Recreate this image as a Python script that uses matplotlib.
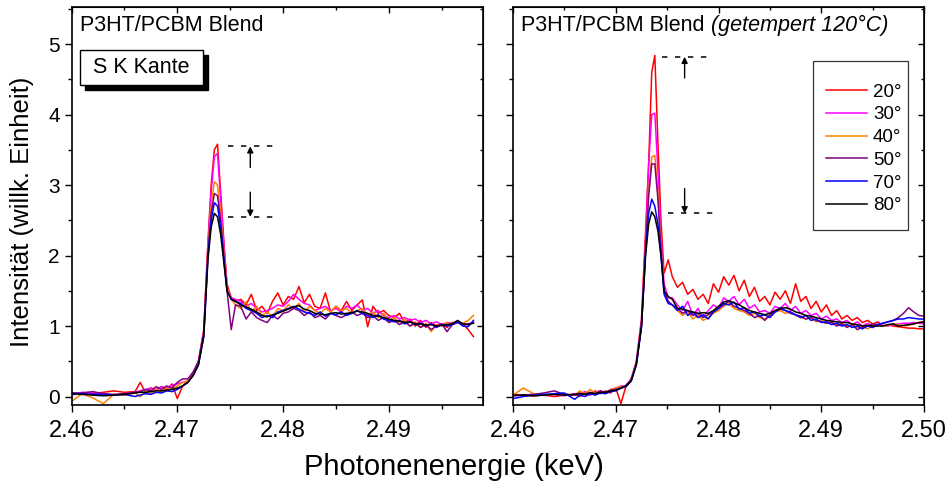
import matplotlib
matplotlib.use('Agg')
import matplotlib.pyplot as plt
from matplotlib.ticker import MultipleLocator, FormatStrFormatter
from matplotlib.patches import Rectangle

plt.rcParams['font.family'] = ['Liberation Sans', 'DejaVu Sans']

# photon energy grid (keV): sparse pre-edge, dense pre-edge, edge, post-edge
energy_left = [2.460, 2.461, 2.462, 2.463, 2.464, 2.465, 2.466,
               2.4665, 2.467, 2.4675, 2.468, 2.4685, 2.469, 2.4695, 2.470, 2.4705,
               2.471, 2.4715, 2.472, 2.4725, 2.4729, 2.4732, 2.4735, 2.4738, 2.4741,
               2.4744, 2.4747, 2.4751, 2.4755,
               2.476, 2.4765, 2.477, 2.4775, 2.478, 2.4785, 2.479, 2.4795, 2.480,
               2.4805, 2.481, 2.4815, 2.482, 2.4825, 2.483, 2.4835, 2.484, 2.4845,
               2.485, 2.4855, 2.486, 2.4865, 2.487, 2.4875, 2.488, 2.4885, 2.489,
               2.4895, 2.490, 2.4905, 2.491, 2.4915, 2.492, 2.4925, 2.493, 2.4935,
               2.494, 2.4945, 2.495, 2.4955, 2.496, 2.4965, 2.497, 2.4975, 2.498]
energy_right = energy_left + [2.4985, 2.499, 2.4995, 2.500]

labels = ['20°', '30°', '40°', '50°', '70°', '80°']
colors = ['#ff0000', '#ff00ff', '#ff8000', '#800080', '#0000ff', '#000000']

# P3HT/PCBM Blend (as cast)
left_20 = [0.05, 0.05, 0.04, 0.06, 0.08, 0.06, 0.07, 0.20, 0.05, 0.12, 0.10, 0.14, 0.09, 0.18, -0.03, 0.15,
           0.22, 0.32, 0.50, 0.95, 2.20, 3.00, 3.50, 3.58, 2.90, 2.20, 1.60, 1.40, 1.35,
           1.38, 1.30, 1.45, 1.22, 1.28, 1.18, 1.35, 1.47, 1.30, 1.42, 1.38, 1.56, 1.33, 1.45, 1.28,
           1.25, 1.47, 1.20, 1.28, 1.22, 1.35, 1.22, 1.30, 1.37, 0.99, 1.28, 1.18, 1.22, 1.15, 1.12,
           1.18, 1.05, 1.10, 1.00, 1.08, 0.98, 1.05, 1.00, 1.03, 0.98, 1.05, 1.05, 1.03, 0.95, 0.85]
left_30 = [0.02, 0.06, 0.05, 0.04, 0.02, 0.04, 0.06, 0.08, 0.10, 0.12, 0.08, 0.14, 0.12, 0.16, 0.18, 0.20,
           0.22, 0.30, 0.48, 0.92, 2.15, 2.90, 3.40, 3.45, 2.80, 2.15, 1.55, 1.40, 1.38,
           1.35, 1.28, 1.32, 1.25, 1.20, 1.22, 1.25, 1.30, 1.28, 1.35, 1.45, 1.38, 1.32, 1.30, 1.22,
           1.25, 1.28, 1.22, 1.25, 1.20, 1.28, 1.25, 1.30, 1.22, 1.25, 1.18, 1.22, 1.15, 1.12, 1.15,
           1.10, 1.12, 1.08, 1.10, 1.05, 1.08, 1.03, 1.06, 1.02, 1.05, 1.04, 1.06, 1.03, 1.02, 1.05]
left_40 = [-0.07, 0.04, -0.02, -0.10, 0.03, 0.02, 0.05, 0.00, 0.08, 0.04, 0.10, 0.07, 0.12, 0.10, 0.15, 0.20,
           0.22, 0.30, 0.48, 0.90, 2.10, 2.70, 3.05, 3.00, 2.60, 2.05, 1.55, 1.38, 1.30,
           1.25, 1.35, 1.20, 1.28, 1.15, 1.20, 1.12, 1.25, 1.22, 1.30, 1.25, 1.32, 1.20, 1.28, 1.22,
           1.18, 1.25, 1.20, 1.28, 1.22, 1.25, 1.18, 1.22, 1.25, 1.15, 1.20, 1.12, 1.18, 1.08, 1.12,
           1.05, 1.10, 1.00, 1.06, 0.98, 1.04, 0.92, 1.02, 1.00, 1.05, 1.02, 1.05, 1.04, 1.08, 1.15]
left_50 = [0.03, 0.05, 0.07, 0.04, 0.03, 0.04, 0.06, 0.07, 0.10, 0.08, 0.14, 0.10, 0.15, 0.12, 0.20, 0.25,
           0.25, 0.35, 0.50, 0.90, 2.05, 2.60, 2.88, 2.85, 2.50, 2.00, 1.50, 0.95, 1.30,
           1.28, 1.10, 1.20, 1.12, 1.08, 1.05, 1.15, 1.10, 1.18, 1.20, 1.25, 1.22, 1.15, 1.20, 1.12,
           1.15, 1.10, 1.18, 1.15, 1.12, 1.16, 1.20, 1.15, 1.18, 1.12, 1.15, 1.08, 1.12, 1.05, 1.08,
           1.02, 1.06, 1.00, 1.04, 0.98, 1.02, 0.95, 1.00, 1.03, 0.92, 1.02, 1.05, 1.02, 1.03, 1.05]
left_70 = [0.05, 0.04, 0.03, 0.03, 0.02, 0.03, 0.00, 0.02, 0.04, 0.03, 0.06, 0.05, 0.08, 0.07, 0.10, 0.15,
           0.20, 0.30, 0.45, 0.85, 2.00, 2.50, 2.75, 2.70, 2.40, 1.95, 1.50, 1.38, 1.35,
           1.32, 1.25, 1.22, 1.18, 1.12, 1.15, 1.12, 1.20, 1.22, 1.25, 1.28, 1.24, 1.20, 1.18, 1.15,
           1.20, 1.14, 1.18, 1.16, 1.20, 1.15, 1.18, 1.22, 1.18, 1.15, 1.12, 1.16, 1.10, 1.08, 1.06,
           1.08, 1.03, 1.06, 1.02, 1.04, 1.00, 1.03, 0.98, 1.02, 1.00, 1.02, 1.06, 1.00, 0.99, 1.08]
left_80 = [0.04, 0.03, 0.02, 0.01, 0.02, 0.03, 0.05, 0.06, 0.06, 0.07, 0.08, 0.08, 0.09, 0.10, 0.12, 0.15,
           0.20, 0.30, 0.45, 0.85, 1.95, 2.40, 2.60, 2.55, 2.30, 1.90, 1.50, 1.38, 1.35,
           1.30, 1.27, 1.24, 1.20, 1.15, 1.13, 1.16, 1.18, 1.21, 1.24, 1.27, 1.29, 1.24, 1.22, 1.18,
           1.17, 1.16, 1.18, 1.19, 1.17, 1.18, 1.19, 1.21, 1.20, 1.18, 1.15, 1.14, 1.12, 1.10, 1.08,
           1.07, 1.05, 1.06, 1.03, 1.03, 1.01, 1.02, 1.00, 1.01, 1.02, 1.03, 1.08, 1.03, 1.02, 1.04]

# P3HT/PCBM Blend (annealed 120 °C)
right_20 = [0.03, 0.02, 0.01, 0.02, 0.00, 0.02, 0.03, 0.00, 0.06, 0.02, 0.08, 0.04, 0.08, 0.05, 0.12, -0.10,
            0.15, 0.25, 0.50, 1.10, 2.35, 3.30, 4.60, 4.84, 3.60, 2.50, 1.75, 1.94, 1.70,
            1.55, 1.62, 1.45, 1.52, 1.38, 1.45, 1.32, 1.60, 1.48, 1.70, 1.58, 1.72, 1.50, 1.65, 1.42,
            1.55, 1.35, 1.42, 1.30, 1.48, 1.38, 1.50, 1.32, 1.60, 1.35, 1.42, 1.25, 1.35, 1.20, 1.30,
            1.15, 1.22, 1.10, 1.15, 1.08, 1.12, 1.05, 1.08, 1.03, 1.06, 1.00, 1.02, 1.00, 0.99, 0.98,
            0.97, 0.97, 0.96, 0.96]
right_30 = [0.01, 0.02, 0.03, 0.02, 0.03, 0.01, 0.04, 0.03, 0.07, 0.02, 0.06, 0.08, 0.05, 0.10, 0.12, 0.15,
            0.15, 0.25, 0.48, 1.05, 2.20, 3.30, 4.00, 4.02, 3.20, 2.30, 1.60, 1.40, 1.40,
            1.30, 1.22, 1.35, 1.15, 1.25, 1.12, 1.22, 1.30, 1.25, 1.40, 1.35, 1.42, 1.30, 1.38, 1.25,
            1.30, 1.20, 1.22, 1.18, 1.28, 1.25, 1.32, 1.22, 1.28, 1.18, 1.22, 1.15, 1.18, 1.10, 1.14,
            1.08, 1.10, 1.05, 1.08, 1.02, 1.06, 1.00, 1.04, 0.98, 1.03, 1.01, 1.00, 1.02, 1.03, 1.04,
            1.04, 1.05, 1.04, 1.03]
right_40 = [0.02, 0.12, 0.04, 0.02, 0.03, 0.04, 0.02, 0.08, 0.04, 0.10, 0.05, 0.08, 0.04, 0.10, 0.12, 0.14,
            0.15, 0.24, 0.48, 1.00, 2.10, 2.90, 3.40, 3.42, 2.90, 2.15, 1.50, 1.35, 1.30,
            1.22, 1.15, 1.20, 1.10, 1.15, 1.08, 1.12, 1.18, 1.22, 1.28, 1.32, 1.25, 1.22, 1.20, 1.15,
            1.18, 1.12, 1.10, 1.15, 1.20, 1.22, 1.18, 1.20, 1.15, 1.12, 1.10, 1.12, 1.06, 1.08, 1.05,
            1.06, 1.02, 1.04, 1.00, 1.02, 0.98, 1.00, 0.96, 1.00, 1.02, 1.00, 1.01, 1.03, 1.02, 1.00,
            1.01, 1.03, 1.05, 1.06]
right_50 = [0.01, 0.02, 0.03, 0.05, 0.08, 0.03, 0.02, 0.05, 0.03, 0.06, 0.04, 0.08, 0.06, 0.09, 0.10, 0.12,
            0.16, 0.24, 0.47, 1.00, 2.10, 2.85, 3.30, 3.30, 2.80, 2.10, 1.50, 1.35, 1.30,
            1.25, 1.18, 1.22, 1.15, 1.18, 1.12, 1.16, 1.20, 1.25, 1.30, 1.35, 1.28, 1.25, 1.22, 1.18,
            1.12, 1.15, 1.08, 1.16, 1.20, 1.24, 1.22, 1.18, 1.16, 1.14, 1.10, 1.12, 1.08, 1.06, 1.04,
            1.05, 1.00, 1.03, 0.98, 1.02, 0.95, 0.98, 1.00, 1.03, 1.02, 1.04, 1.06, 1.08, 1.12, 1.18,
            1.26, 1.20, 1.15, 1.14]
right_70 = [-0.03, 0.00, 0.02, 0.03, 0.04, 0.05, -0.04, 0.02, 0.00, 0.04, 0.02, 0.05, 0.04, 0.07, 0.08, 0.12,
            0.14, 0.22, 0.45, 0.98, 2.05, 2.60, 2.80, 2.70, 2.45, 2.00, 1.45, 1.32, 1.30,
            1.22, 1.28, 1.15, 1.20, 1.12, 1.16, 1.10, 1.20, 1.25, 1.32, 1.30, 1.34, 1.24, 1.26, 1.18,
            1.20, 1.14, 1.16, 1.12, 1.20, 1.26, 1.22, 1.20, 1.16, 1.12, 1.15, 1.08, 1.10, 1.05, 1.06,
            1.02, 1.04, 1.00, 1.02, 0.98, 1.00, 0.96, 1.00, 0.98, 1.02, 1.04, 1.06, 1.08, 1.10, 1.10,
            1.12, 1.11, 1.10, 1.10]
right_80 = [0.02, 0.02, 0.01, 0.02, 0.03, 0.02, 0.03, 0.04, 0.03, 0.05, 0.04, 0.06, 0.06, 0.08, 0.09, 0.12,
            0.15, 0.22, 0.45, 1.00, 2.00, 2.45, 2.62, 2.55, 2.35, 2.00, 1.50, 1.42, 1.38,
            1.25, 1.24, 1.22, 1.20, 1.18, 1.19, 1.18, 1.22, 1.28, 1.34, 1.36, 1.33, 1.30, 1.26, 1.22,
            1.20, 1.18, 1.16, 1.18, 1.22, 1.25, 1.26, 1.24, 1.20, 1.18, 1.15, 1.14, 1.12, 1.10, 1.08,
            1.07, 1.06, 1.05, 1.05, 1.03, 1.02, 1.00, 1.01, 1.00, 1.00, 1.00, 1.02, 1.03, 1.00, 1.01,
            1.02, 1.03, 1.05, 1.06]

left_series = [left_20, left_30, left_40, left_50, left_70, left_80]
right_series = [right_20, right_30, right_40, right_50, right_70, right_80]


def style_axes(ax, xmax, show_ylabels):
    ax.set_xlim(2.46, xmax)
    ax.set_ylim(-0.12, 5.52)
    ax.xaxis.set_major_locator(MultipleLocator(0.01))
    ax.xaxis.set_minor_locator(MultipleLocator(0.005))
    ax.yaxis.set_major_locator(MultipleLocator(1))
    ax.yaxis.set_minor_locator(MultipleLocator(0.5))
    ax.xaxis.set_major_formatter(FormatStrFormatter('%.2f'))
    ax.yaxis.set_major_formatter(FormatStrFormatter('%d'))
    ax.tick_params(which='both', direction='out', width=1.0, top=False, right=False)
    ax.tick_params(which='major', length=5)
    ax.tick_params(which='minor', length=3)
    ax.tick_params(axis='x', labelsize=17, pad=6)
    ax.tick_params(axis='y', labelsize=15, pad=3.5, labelleft=show_ylabels)
    for sp in ax.spines.values():
        sp.set_linewidth(1.2)
    # mirrored ticks, pointing inwards
    top = ax.secondary_xaxis('top')
    top.xaxis.set_major_locator(MultipleLocator(0.01))
    top.xaxis.set_minor_locator(MultipleLocator(0.005))
    top.tick_params(which='both', direction='in', labeltop=False, width=1.0)
    top.tick_params(which='major', length=4)
    top.tick_params(which='minor', length=2.5)
    right = ax.secondary_yaxis('right')
    right.yaxis.set_major_locator(MultipleLocator(1))
    right.yaxis.set_minor_locator(MultipleLocator(0.5))
    right.tick_params(which='both', direction='in', labelright=False, width=1.0)
    right.tick_params(which='major', length=4)
    right.tick_params(which='minor', length=2.5)


def mark_drop(ax, x_arrow, x_hi, y_hi, x_lo, y_lo):
    ax.plot(x_hi, [y_hi, y_hi], color='black', lw=1.1, dashes=(3.5, 5))
    ax.plot(x_lo, [y_lo, y_lo], color='black', lw=1.1, dashes=(3.5, 5))
    arrow = dict(arrowstyle='-|>', color='black', lw=1.0, mutation_scale=9, shrinkA=0, shrinkB=0)
    ax.annotate('', xy=(x_arrow, y_hi), xytext=(x_arrow, y_hi - 0.3), arrowprops=arrow)
    ax.annotate('', xy=(x_arrow, y_lo), xytext=(x_arrow, y_lo + 0.35), arrowprops=arrow)


fig = plt.figure(figsize=(9.49, 4.82), dpi=100)
ax1 = fig.add_axes([0.0754, 0.1598, 0.4335, 0.8247])
ax2 = fig.add_axes([0.5406, 0.1598, 0.4331, 0.8247])

for ys, c, lab in zip(left_series, colors, labels):
    ax1.plot(energy_left, ys, color=c, lw=1.1, label=lab)
for ys, c, lab in zip(right_series, colors, labels):
    ax2.plot(energy_right, ys, color=c, lw=1.1, label=lab)

style_axes(ax1, 2.4989, True)
style_axes(ax2, 2.500, False)

mark_drop(ax1, 2.4769, [2.4748, 2.4793], max(left_20) - 0.03, [2.4748, 2.4793], max(left_80) - 0.05)
mark_drop(ax2, 2.4767, [2.4745, 2.4790], max(right_20) - 0.02, [2.4751, 2.4796], max(right_80) - 0.02)

# panel titles
ax1.text(0.0204, 0.981, 'P3HT/PCBM Blend', transform=ax1.transAxes, va='top', ha='left', fontsize=15.5)
t1 = ax2.text(0.0195, 0.981, 'P3HT/PCBM Blend ', transform=ax2.transAxes, va='top', ha='left', fontsize=15.5)
ax2.annotate('(getempert 120°C)', xy=(1, 0), xycoords=t1, va='bottom', ha='left',
             fontsize=15.5, fontstyle='italic')

# "S K Kante" box with drop shadow
ax1.add_patch(Rectangle((0.0325, 0.7924), 0.299, 0.088, transform=ax1.transAxes,
                        facecolor='black', edgecolor='black', zorder=5))
ax1.add_patch(Rectangle((0.0204, 0.805), 0.299, 0.088, transform=ax1.transAxes,
                        facecolor='white', edgecolor='black', lw=1.0, zorder=6))
ax1.text(0.17, 0.849, 'S K Kante', transform=ax1.transAxes, ha='center', va='center',
         fontsize=15.5, zorder=7)

# legend: frameless entries inside a drawn box
ax2.add_patch(Rectangle((0.730, 0.440), 0.231, 0.425, transform=ax2.transAxes,
                        facecolor='white', edgecolor='#333333', lw=0.9, zorder=8))
leg = ax2.legend(loc='upper left', bbox_to_anchor=(0.7616, 0.8085), fontsize=13.5,
                 handlelength=2.2, handletextpad=0.3, labelspacing=0.3, borderpad=0,
                 frameon=False, borderaxespad=0)
leg.set_zorder(9)

fig.text(0.478, 0.032, 'Photonenenergie (keV)', ha='center', va='center', fontsize=21)
fig.text(0.023, 0.561, 'Intensität (willk. Einheit)', ha='center', va='center',
         rotation=90, fontsize=18.5)

fig.savefig('out.png', dpi=100)
